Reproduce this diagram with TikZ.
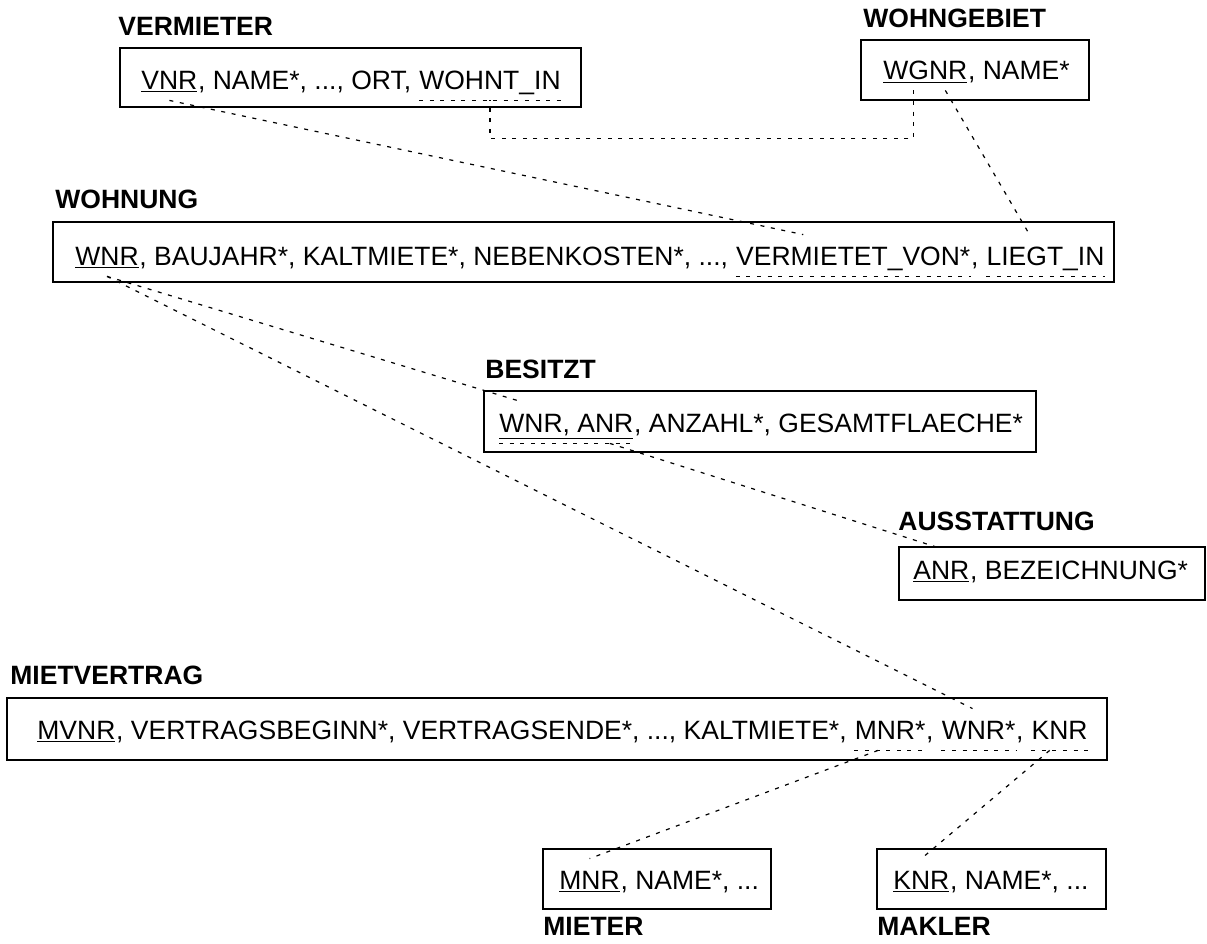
\documentclass[tikz,border=0pt]{standalone}
\usepackage{fontspec}
\setmainfont{Liberation Sans}
\usetikzlibrary{fit}

% Wortabstand der Schrift
\newcommand{\spc}{3.68pt}

\begin{document}
\begin{tikzpicture}[x=0.5pt,y=-0.5pt]
	\tikzstyle{every node}=[font=\fontsize{13.25pt}{15pt}\selectfont]
	\tikzstyle{relname}=[anchor=base west, inner sep=0pt, font=\fontsize{13.25pt}{15pt}\selectfont\bfseries]
	\tikzstyle{relbox}=[draw, line width=0.8pt, inner sep=0pt]
	\tikzstyle{attr}=[anchor=base west, inner sep=0pt]
	\tikzstyle{key}=[anchor=base west, inner xsep=0pt, inner ysep=5.5pt, text height=9.5pt, text depth=0pt]
	\tikzstyle{link}=[line width=0.6pt, dash pattern=on 2pt off 3.3pt]
	\useasboundingbox (0,0) rectangle (1207,944);

	% Relationen
	\node[relname] (vm-lbl) at (118,35) {VERMIETER};
	\node[relbox, fit={(120,48) (581,107)}] (vm) {};
	\node[key] (vm-vnr) at (141,89) {\underline{VNR}};
	\node[attr] (vm-rest) at (vm-vnr.base east) {, NAME*, ..., ORT,};
	\node[key, xshift=\spc] (vm-wohnt) at (vm-rest.base east) {WOHNT\_IN};

	\node[relname] (wg-lbl) at (863,27) {WOHNGEBIET};
	\node[relbox, fit={(861,40) (1089,100)}] (wg) {};
	\node[key] (wg-wgnr) at (883,79) {\underline{WGNR}};
	\node[attr] (wg-rest) at (wg-wgnr.base east) {, NAME*};

	\node[relname] (wo-lbl) at (55,208) {WOHNUNG};
	\node[relbox, fit={(53,222) (1114,282)}] (wo) {};
	\node[key] (wo-wnr) at (75,265) {\underline{WNR}};
	\node[attr] (wo-rest) at (wo-wnr.base east) {, BAUJAHR*, KALTMIETE*, NEBENKOSTEN*, ...,};
	\node[key, xshift=\spc] (wo-vv) at (wo-rest.base east) {VERMIETET\_VON*};
	\node[attr] (wo-sep) at (wo-vv.base east) {,};
	\node[key, xshift=\spc] (wo-liegt) at (wo-sep.base east) {LIEGT\_IN};

	\node[relname] (bs-lbl) at (485,378) {BESITZT};
	\node[relbox, fit={(484,391) (1036,452)}] (bs) {};
	\node[key] (bs-key) at (499,432) {\underline{WNR, ANR}};
	\node[attr] (bs-rest) at (bs-key.base east) {, ANZAHL*, GESAMTFLAECHE*};

	\node[relname] (au-lbl) at (898,530) {AUSSTATTUNG};
	\node[relbox, fit={(899,547) (1205,600)}] (au) {};
	\node[key] (au-anr) at (913,579) {\underline{ANR}};
	\node[attr] (au-rest) at (au-anr.base east) {, BEZEICHNUNG*};

	\node[relname] (mv-lbl) at (10,684) {MIETVERTRAG};
	\node[relbox, fit={(7,698) (1107,760)}] (mv) {};
	\node[key] (mv-mvnr) at (37,739) {\underline{MVNR}};
	\node[attr] (mv-rest) at (mv-mvnr.base east) {, VERTRAGSBEGINN*, VERTRAGSENDE*, ..., KALTMIETE*,};
	\node[key, xshift=\spc] (mv-mnr) at (mv-rest.base east) {MNR*};
	\node[attr] (mv-sep1) at (mv-mnr.base east) {,};
	\node[key, xshift=\spc] (mv-wnr) at (mv-sep1.base east) {WNR*};
	\node[attr] (mv-sep2) at (mv-wnr.base east) {,};
	\node[key, xshift=\spc] (mv-knr) at (mv-sep2.base east) {KNR};

	\node[relbox, fit={(543,849) (771,909)}] (mi) {};
	\node[key] (mi-mnr) at (559,889) {\underline{MNR}};
	\node[attr] (mi-rest) at (mi-mnr.base east) {, NAME*, ...};
	\node[relname] (mi-lbl) at (543,935) {MIETER};

	\node[relbox, fit={(877,849) (1106,909)}] (mk) {};
	\node[key] (mk-knr) at (893,889) {\underline{KNR}};
	\node[attr] (mk-rest) at (mk-knr.base east) {, NAME*, ...};
	\node[relname] (mk-lbl) at (877,935) {MAKLER};

	% Fremdschluessel
	\foreach \k in {vm-wohnt,wo-vv,wo-liegt,bs-key,mv-mnr,mv-wnr,mv-knr}
		\draw[link] (\k.south west) -- (\k.south east);

	% Verweise
	\draw[link] (vm-vnr.south) -- ([xshift=-25pt]wo-vv.north);
	\draw[link] ([xshift=-6pt]wg-wgnr.south) -- ++(0,48) -| (vm-wohnt.south);
	\draw[link] ([xshift=10pt]wg-wgnr.south) -- ([xshift=-8pt]wo-liegt.north);
	\draw[link] (wo-wnr.south) -- ([xshift=11pt]bs-key.north west);
	\draw[link] ([xshift=-12pt]bs-key.south east) -- (au-anr.north);
	\draw[link] (wo-wnr.south) -- ([xshift=-3pt]mv-wnr.north);
	\draw[link] ([xshift=-6pt]mv-mnr.south) -- (mi-mnr.north);
	\draw[link] ([xshift=-5pt]mv-knr.south) -- (mk-knr.north);
\end{tikzpicture}
\end{document}
